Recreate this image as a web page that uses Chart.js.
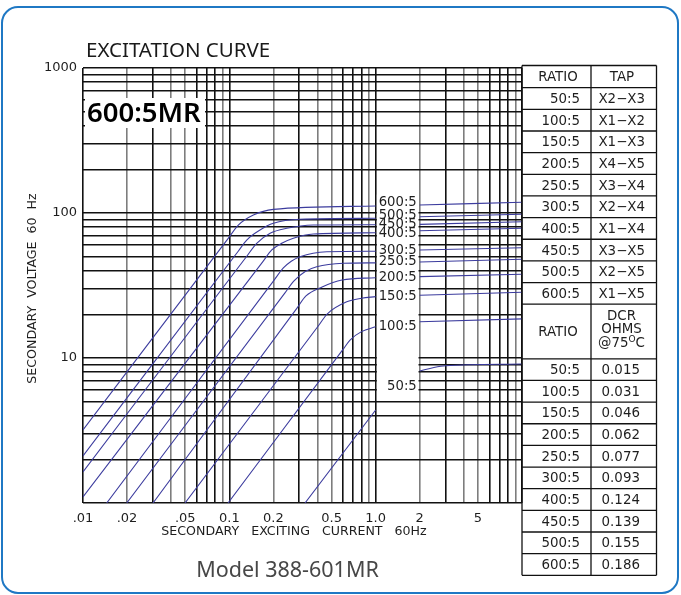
<!DOCTYPE html>
<html><head><meta charset="utf-8">
<script src="https://cdn.jsdelivr.net/npm/chart.js@4"></script>
<style>html,body{margin:0;padding:0;background:#fff;}canvas{display:block}</style>
</head><body>
<canvas id="c" width="681" height="595"></canvas>
<script>
// ---- table data ----
const ratios = ['50:5','100:5','150:5','200:5','250:5','300:5','400:5','450:5','500:5','600:5'];
const taps = ['X2\u2212X3','X1\u2212X2','X1\u2212X3','X4\u2212X5','X3\u2212X4','X2\u2212X4','X1\u2212X4','X3\u2212X5','X2\u2212X5','X1\u2212X5'];
const dcrOhms = ['0.015','0.031','0.046','0.062','0.077','0.093','0.124','0.139','0.155','0.186'];

// ---- excitation curves: secondary exciting current (A) vs secondary voltage (V) ----
// null = break of the curve across the label column (1.0 A .. 2 A)
const amps50  = [0.329, 1.0, null, 2, 2.5, 3.0, 10];
const volts50 = [1, 4.38, null, 8.13, 8.6, 8.85, 9.09];
const amps100  = [0.098, 0.6, 0.668, 0.8, 1.0, null, 2, 10];
const volts100 = [1, 11.5, 13.3, 15.2, 16.4, null, 17.8, 18.6];
const amps150  = [0.0498, 0.41, 0.4656, 0.6345, 0.8, 1.0, null, 2, 10];
const volts150 = [1, 16.9, 20.1, 24.4, 25.8, 26.5, null, 27.1, 28.4];
const amps200  = [0.0301, 0.29, 0.334, 0.4305, 0.589, 1.0, null, 2, 10];
const volts200 = [1, 22.1, 26.8, 30.9, 34.5, 35.8, null, 36.4, 37.8];
const amps250  = [0.0199, 0.24, 0.2767, 0.33, 0.3954, 0.601, 1.0, null, 2, 10];
const volts250 = [1, 28.1, 34.0, 39.5, 42.6, 45.0, 45.3, null, 45.9, 48.0];
const amps300  = [0.01452, 0.2, 0.234, 0.265, 0.304, 0.4637, 1.0, null, 2, 10];
const volts300 = [1, 33.9, 41.8, 46.5, 50.0, 54.1, 54.5, null, 55.6, 57.6];
const amps400  = [0.01, 0.17, 0.195, 0.23, 0.274, 0.375, 1.0, null, 2, 10];
const volts400 = [1.1, 46.4, 55.6, 62.0, 66.9, 71.6, 73.1, null, 75.5, 78.4];
const amps450  = [0.01, 0.13, 0.1538, 0.19, 0.2466, 0.375, 1.0, null, 2, 10];
const volts450 = [1.64, 49.5, 61.8, 72.5, 78.4, 82.6, 83.0, null, 83.5, 87.1];
const amps500  = [0.01, 0.115, 0.1315, 0.162, 0.2, 0.304, 1.0, null, 2, 10];
const volts500 = [2.11, 54.5, 65.1, 76.3, 84.9, 90.5, 91.9, null, 94.3, 98.0];
const amps600  = [0.01, 0.098, 0.1152, 0.146, 0.2, 1.0, null, 2, 10];
const volts600 = [3.19, 66.6, 82.6, 96.9, 106.0, 111.7, null, 113.6, 118.6];
// voltage level at which each ratio label sits in the label column
const labelVolts = [6.41, 16.5, 26.6, 36.2, 46.4, 55.8, 72.8, 84.0, 96.9, 119.1];

// ---- axis tick labels ----
const xLabelValues = [0.01, 0.02, 0.05, 0.1, 0.2, 0.5, 1, 2, 5];
const xLabelTexts  = ['.01', '.02', '.05', '0.1', '0.2', '0.5', '1.0', '2', '5'];
const yLabelValues = [10, 100, 1000];
const yLabelTexts  = ['10', '100', '1000'];

const curveAmps  = [amps50, amps100, amps150, amps200, amps250, amps300, amps400, amps450, amps500, amps600];
const curveVolts = [volts50, volts100, volts150, volts200, volts250, volts300, volts400, volts450, volts500, volts600];

// log grid values (1..9 per decade)
function logGrid(minExp, maxExp) {
  const g = [];
  for (let e = minExp; e < maxExp; e++) for (let m = 1; m < 10; m++) g.push(+(m * Math.pow(10, e)).toPrecision(3));
  g.push(Math.pow(10, maxExp));
  return g;
}
const gridX = logGrid(-2, 1);
const gridY = logGrid(0, 3);
function mant(v) { return Math.round(v / Math.pow(10, Math.floor(Math.log10(v) + 1e-9))); }
function lookup(vals, texts, v) {
  const i = vals.findIndex(a => Math.abs(a - v) / a < 1e-6);
  return i >= 0 ? texts[i] : '';
}

const CURVE = '#3c3c9e';
const INK = '#1e1e1e';
const TICKFONT = {family: 'DejaVu Sans', size: 13};

const datasets = ratios.map((r, k) => ({
  label: r,
  data: curveAmps[k].map((a, i) => ({x: a === null ? 1.5 : a, y: curveVolts[k][i]})),
  showLine: true,
  spanGaps: false,
  borderColor: CURVE,
  borderWidth: 1.1,
  pointRadius: 0,
  cubicInterpolationMode: 'monotone',
  clip: 0
}));

const decor = {
  id: 'decor',
  beforeDraw(chart) {
    const c = chart.ctx;
    c.save();
    c.fillStyle = '#fff';
    c.fillRect(0, 0, chart.width, chart.height);
    // rounded frame
    c.strokeStyle = '#1f78c4';
    c.lineWidth = 2;
    const x0 = 2, y0 = 7, x1 = 678, y1 = 593, r = 16;
    c.beginPath();
    c.moveTo(x0 + r, y0);
    c.lineTo(x1 - r, y0); c.arcTo(x1, y0, x1, y0 + r, r);
    c.lineTo(x1, y1 - r); c.arcTo(x1, y1, x1 - r, y1, r);
    c.lineTo(x0 + r, y1); c.arcTo(x0, y1, x0, y1 - r, r);
    c.lineTo(x0, y0 + r); c.arcTo(x0, y0, x0 + r, y0, r);
    c.closePath();
    c.stroke();
    c.restore();
  },
  beforeDatasetsDraw(chart) {
    const c = chart.ctx, X = chart.scales.x, Y = chart.scales.y;
    c.save();
    c.fillStyle = '#fff';
    // label column between 1.0 and 2
    const cx0 = X.getPixelForValue(1) + 1.2, cx1 = X.getPixelForValue(2) - 1.2;
    c.fillRect(cx0, Y.getPixelForValue(134), cx1 - cx0, Y.getPixelForValue(5.1) - Y.getPixelForValue(134));
    // box behind model tag
    c.fillRect(85, 98, 120, 30);
    c.restore();
  },
  afterDatasetsDraw(chart) {
    const c = chart.ctx, X = chart.scales.x, Y = chart.scales.y;
    const ca = chart.chartArea;
    c.save();
    // ratio labels in column
    c.fillStyle = INK;
    c.font = '13.2px "DejaVu Sans"';
    c.textAlign = 'right';
    c.textBaseline = 'middle';
    const lx = X.getPixelForValue(2) - 3;
    ratios.forEach((r, k) => c.fillText(r, lx, Y.getPixelForValue(labelVolts[k]) + 0.5));

    // title and tag
    c.textAlign = 'left';
    c.textBaseline = 'alphabetic';
    c.fillStyle = '#1a1a1a';
    c.font = '20.5px "Noto Sans"';
    c.fillText('EXCITATION CURVE', 86, 57);
    c.fillStyle = '#000';
    c.font = '600 27.5px "Noto Sans"';
    c.fillText('600:5MR', 87, 121.5);

    // axis titles
    c.fillStyle = INK;
    c.font = '12.6px "DejaVu Sans"';
    c.textAlign = 'center';
    c.textBaseline = 'middle';
    c.fillText('SECONDARY   EXCITING   CURRENT   60Hz', 294, 532);
    c.save();
    c.translate(33, (ca.top + ca.bottom) / 2 + 3);
    c.rotate(-Math.PI / 2);
    c.fillText('SECONDARY  VOLTAGE  60  Hz', 0, 0);
    c.restore();

    // model caption
    c.fillStyle = '#474747';
    c.font = '21.5px "Noto Sans"';
    c.textBaseline = 'alphabetic';
    c.fillText('Model 388-601MR', 287.5, 577);

    // ---- table ----
    const tx0 = 522, tx1 = 591, tx2 = 656.5;
    const rowH = 21.65;
    const top1 = 65.5, head1 = 22.2;
    const top2 = top1 + head1 + 10 * rowH, head2 = 54.6;
    c.strokeStyle = '#111';
    c.lineWidth = 1.3;
    const hl = (y) => { c.beginPath(); c.moveTo(tx0, y); c.lineTo(tx2, y); c.stroke(); };
    const vl = (x, ya, yb) => { c.beginPath(); c.moveTo(x, ya); c.lineTo(x, yb); c.stroke(); };
    const bottom = top2 + head2 + 10 * rowH;
    hl(top1);
    hl(top1 + head1);
    for (let i = 1; i <= 10; i++) hl(top1 + head1 + i * rowH);
    hl(top2 + head2);
    for (let i = 1; i <= 10; i++) hl(top2 + head2 + i * rowH);
    vl(tx0, top1, bottom); vl(tx1, top1, bottom); vl(tx2, top1, bottom);

    c.fillStyle = INK;
    c.font = '13.4px "DejaVu Sans"';
    c.textBaseline = 'middle';
    const cc = (tx1 + tx2) / 2;
    c.textAlign = 'center';
    c.fillText('RATIO', 558, top1 + head1 / 2 + 1);
    c.fillText('TAP', 622, top1 + head1 / 2 + 1);
    for (let i = 0; i < 10; i++) {
      const y = top1 + head1 + i * rowH + rowH / 2 + 1;
      c.textAlign = 'right'; c.fillText(ratios[i], 580, y);
      c.textAlign = 'center'; c.fillText(taps[i], cc - 2, y);
    }
    c.textAlign = 'center';
    c.fillText('RATIO', 558, top2 + head2 / 2 + 1);
    c.fillText('DCR', 621.5, top2 + 12);
    c.fillText('OHMS', 621.5, top2 + 25.5);
    // @75°C with raised O
    const w1 = c.measureText('@75').width;
    c.font = '9px "DejaVu Sans"';
    const w2 = c.measureText('O').width;
    c.font = '13.4px "DejaVu Sans"';
    const w3 = c.measureText('C').width;
    let sx = 621.5 - (w1 + w2 + w3) / 2;
    c.textAlign = 'left';
    c.fillText('@75', sx, top2 + 39);
    c.font = '9px "DejaVu Sans"';
    c.fillText('O', sx + w1, top2 + 35);
    c.font = '13.4px "DejaVu Sans"';
    c.fillText('C', sx + w1 + w2, top2 + 39);
    for (let i = 0; i < 10; i++) {
      const y = top2 + head2 + i * rowH + rowH / 2 + 1;
      c.textAlign = 'right'; c.fillText(ratios[i], 580, y);
      c.textAlign = 'center'; c.fillText(dcrOhms[i], cc - 3, y);
    }
    c.restore();
  }
};

new Chart(document.getElementById('c'), {
  type: 'scatter',
  data: {datasets},
  options: {
    responsive: false,
    animation: false,
    events: [],
    layout: {padding: {top: 68, right: 159, left: 0, bottom: 0}},
    plugins: {legend: {display: false}, title: {display: false}, tooltip: {enabled: false}},
    scales: {
      x: {
        type: 'logarithmic',
        min: 0.01, max: 10,
        afterFit: s => { s.height = 92; },
        afterBuildTicks: s => { s.ticks = gridX.map(v => ({value: v})); },
        border: {display: false},
        grid: {
          drawTicks: false,
          lineWidth: 1.6,
          color: ctx => { const m = mant(ctx.tick.value); return [2, 4, 5, 9].includes(m) ? '#7d7d7d' : '#111'; }
        },
        ticks: {
          autoSkip: false, maxRotation: 0, minRotation: 0, padding: 8,
          color: INK, font: TICKFONT,
          callback: v => lookup(xLabelValues, xLabelTexts, v)
        }
      },
      y: {
        type: 'logarithmic',
        min: 1, max: 1000,
        afterFit: s => { s.width = 83; },
        afterBuildTicks: s => { s.ticks = gridY.map(v => ({value: v})); },
        border: {display: false},
        grid: {drawTicks: false, lineWidth: 1.5, color: '#111'},
        ticks: {
          autoSkip: false, padding: 6,
          color: INK, font: TICKFONT,
          callback: v => lookup(yLabelValues, yLabelTexts, v)
        }
      }
    }
  },
  plugins: [decor]
});
</script>
</body></html>
